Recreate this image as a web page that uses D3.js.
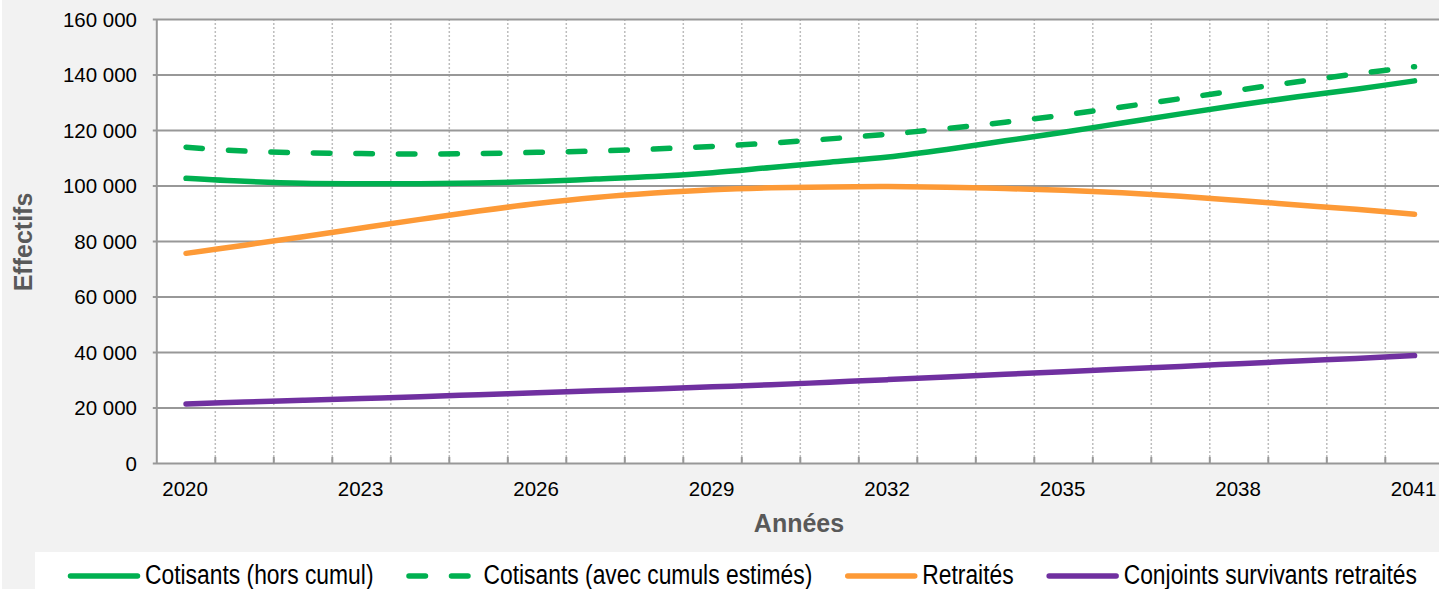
<!DOCTYPE html>
<html>
<head>
<meta charset="utf-8">
<script src="https://cdn.jsdelivr.net/npm/d3@7"></script>
<style>
  body { margin: 0; background: #ffffff; }
  svg { display: block; }
</style>
</head>
<body>
<div id="chart"></div>
<script>
(function() {
"use strict";

//categories and series
var years = [2020, 2021, 2022, 2023, 2024, 2025, 2026, 2027, 2028, 2029, 2030,
             2031, 2032, 2033, 2034, 2035, 2036, 2037, 2038, 2039, 2040, 2041];

var cotisantsHorsCumul = [102600, 101500, 100800, 100650, 100650, 100900, 101400, 102300, 103200, 104600, 106500,
                          108400, 110300, 113000, 116100, 119200, 122500, 125800, 129000, 132000, 134700, 137700];

var cotisantsAvecCumuls = [113800, 112400, 111800, 111500, 111350, 111500, 111950, 112400, 113150, 114100, 115300,
                           116800, 118500, 120500, 122800, 125400, 128300, 131300, 134400, 137400, 140200, 142800];

var retraites = [75550, 78500, 81550, 84700, 87800, 90800, 93500, 95700, 97300, 98500, 99200,
                 99500, 99600, 99400, 98900, 98300, 97400, 96100, 94600, 93000, 91400, 89600];

var conjointsSurvivants = [21300, 21950, 22600, 23250, 23900, 24600, 25300, 26000, 26700, 27450, 28200,
                           29100, 30050, 31000, 31950, 32900, 33850, 34800, 35800, 36750, 37700, 38700];

var seriesNames = ["Cotisants (hors cumul)", "Cotisants (avec cumuls estimés)", "Retraités", "Conjoints survivants retraités"];

var xTickLabels = [2020, 2023, 2026, 2029, 2032, 2035, 2038, 2041];
var yTickValues = [0, 20000, 40000, 60000, 80000, 100000, 120000, 140000, 160000];

var width = 1439;
var height = 589;

var plotLeft = 156.8;
var plotTop = 19;
var plotBottom = 463;
var step = 58.5;
var narrow = 0.816; //legend font is a narrow face, squeeze a normal one

var series = [
    { name: seriesNames[0], values: cotisantsHorsCumul, colour: "#00b050", dash: null },
    { name: seriesNames[1], values: cotisantsAvecCumuls, colour: "#00b050", dash: "16.5 26" },
    { name: seriesNames[2], values: retraites, colour: "#fd9a37", dash: null },
    { name: seriesNames[3], values: conjointsSurvivants, colour: "#7030a0", dash: null }
];

var svg = d3.select("#chart")
    .append("svg")
    .attr("width", width)
    .attr("height", height);

//grey background of the whole chart (thin white strip on the far left like the original)
svg.append("rect")
    .attr("x", 2).attr("y", 0)
    .attr("width", width - 2).attr("height", height)
    .attr("fill", "#f2f2f2");

var x = d3.scaleBand()
    .domain(years)
    .range([plotLeft, plotLeft + years.length * step])
    .paddingInner(0).paddingOuter(0);

var y = d3.scaleLinear()
    .domain([0, 160000])
    .range([plotBottom, plotTop]);

var fr = d3.formatLocale({ decimal: ",", thousands: " ", grouping: [3], currency: ["", " €"] });
var fmt = fr.format(",");

//white plot area
svg.append("rect")
    .attr("x", plotLeft).attr("y", plotTop)
    .attr("width", width - plotLeft).attr("height", plotBottom - plotTop)
    .attr("fill", "#ffffff");

//dotted vertical grid on category boundaries
svg.append("g")
    .selectAll("line")
    .data(years.slice(1))
    .enter().append("line")
    .attr("x1", function(d) { return x(d); })
    .attr("x2", function(d) { return x(d); })
    .attr("y1", plotTop)
    .attr("y2", plotBottom)
    .attr("stroke", "#bdbdbd")
    .attr("stroke-width", 1.5)
    .attr("stroke-dasharray", "2 2");

//horizontal grid + y axis labels
var yAxis = d3.axisLeft(y)
    .tickValues(yTickValues)
    .tickSize(-(width - plotLeft + 4))
    .tickPadding(0)
    .tickFormat(fmt);

var yg = svg.append("g")
    .attr("transform", "translate(" + (plotLeft - 4) + ",0)")
    .call(yAxis);
yg.select(".domain").remove();
yg.selectAll(".tick line")
    .attr("stroke", "#989898")
    .attr("stroke-width", 2);
yg.selectAll(".tick text")
    .attr("x", 137 - (plotLeft - 4))
    .attr("dy", "0.35em")
    .attr("fill", "#000")
    .style("font-family", "'Liberation Sans', Arial, sans-serif")
    .style("font-size", "20.5px");

//left axis line
svg.append("line")
    .attr("x1", plotLeft).attr("x2", plotLeft)
    .attr("y1", plotTop).attr("y2", plotBottom + 1)
    .attr("stroke", "#989898")
    .attr("stroke-width", 2);

//small tick marks on the bottom axis (pointing up into the plot)
svg.append("g")
    .selectAll("line")
    .data(years.slice(1))
    .enter().append("line")
    .attr("x1", function(d) { return x(d); })
    .attr("x2", function(d) { return x(d); })
    .attr("y1", plotBottom)
    .attr("y2", plotBottom - 6)
    .attr("stroke", "#989898")
    .attr("stroke-width", 2);

//x axis labels, every third year
svg.append("g")
    .selectAll("text")
    .data(xTickLabels)
    .enter().append("text")
    .attr("x", function(d) { return x(d) + x.bandwidth() / 2 - 1; })
    .attr("y", 496)
    .attr("text-anchor", "middle")
    .style("font-family", "'Liberation Sans', Arial, sans-serif")
    .style("font-size", "20.5px")
    .text(function(d) { return d; });

//axis titles
svg.append("text")
    .attr("transform", "translate(32,242) rotate(-90)")
    .attr("text-anchor", "middle")
    .attr("fill", "#595959")
    .style("font-family", "'Liberation Sans', Arial, sans-serif")
    .style("font-size", "25px")
    .style("font-weight", "bold")
    .text("Effectifs");

svg.append("text")
    .attr("x", 799)
    .attr("y", 532)
    .attr("text-anchor", "middle")
    .attr("fill", "#595959")
    .style("font-family", "'Liberation Sans', Arial, sans-serif")
    .style("font-size", "25px")
    .style("font-weight", "bold")
    .text("Années");

//the lines (smoothed like the spreadsheet chart)
var line = d3.line()
    .x(function(d, i) { return x(years[i]) + x.bandwidth() / 2; })
    .y(function(d) { return y(d); })
    .curve(d3.curveCatmullRom.alpha(0.5));

svg.append("g")
    .selectAll("path")
    .data(series)
    .enter().append("path")
    .attr("d", function(s) { return line(s.values); })
    .attr("fill", "none")
    .attr("stroke", function(s) { return s.colour; })
    .attr("stroke-width", 5.5)
    .attr("stroke-linecap", "round")
    .attr("stroke-linejoin", "round")
    .attr("stroke-dasharray", function(s) { return s.dash; });

//legend box
svg.append("rect")
    .attr("x", 35).attr("y", 552)
    .attr("width", width - 35).attr("height", height - 552)
    .attr("fill", "#ffffff");

var legend = svg.append("g");
var lx = 70.5;
series.forEach(function(s) {
    legend.append("line")
        .attr("x1", lx).attr("x2", lx + 67)
        .attr("y1", 576).attr("y2", 576)
        .attr("stroke", s.colour)
        .attr("stroke-width", 5.5)
        .attr("stroke-linecap", "round")
        .attr("stroke-dasharray", s.dash);
    var t = legend.append("text")
        .attr("transform", "translate(" + (lx + 74.5) + ",584) scale(" + narrow + ",1)")
        .style("font-family", "'Liberation Sans', Arial, sans-serif")
        .style("font-size", "28px")
        .text(s.name);
    lx = lx + 74.5 + t.node().getComputedTextLength() * narrow + 35.5;
});

})();
</script>
</body>
</html>
